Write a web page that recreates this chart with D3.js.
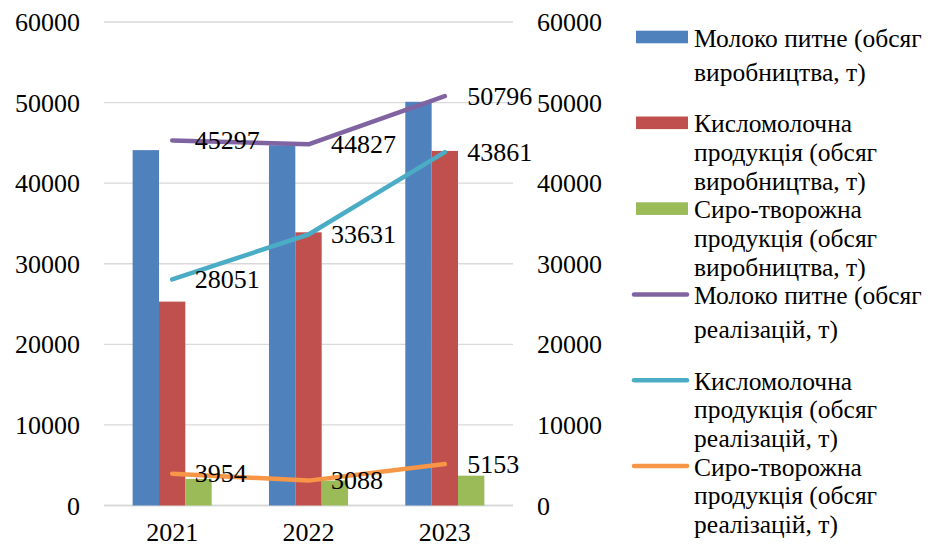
<!DOCTYPE html>
<html>
<head>
<meta charset="utf-8">
<script src="https://cdn.jsdelivr.net/npm/d3@7"></script>
<style>
  html, body { margin: 0; padding: 0; background: #fff; }
  svg text { font-family: "Liberation Serif", "Tinos", "Times New Roman", Times, "DejaVu Serif", serif !important; fill: #000; }
</style>
</head>
<body>
<svg id="chart" width="939" height="547"></svg>
<script>
// Years on the category axis
const years = ["2021", "2022", "2023"];

// Production volumes (bars), tonnes
const barSeries = [
  "Молоко питне (обсяг виробництва, т)",
  "Кисломолочна продукція (обсяг виробництва, т)",
  "Сиро-творожна продукція (обсяг виробництва, т)"
];
const milkProduction = [44100, 44700, 50100];
const sourMilkProduction = [25300, 33900, 44000];
const cheeseProduction = [3300, 3100, 3700];

// Sales volumes (lines on the secondary axis), tonnes
const lineSeries = [
  "Молоко питне (обсяг реалізацій, т)",
  "Кисломолочна продукція (обсяг реалізацій, т)",
  "Сиро-творожна продукція (обсяг реалізацій, т)"
];
const milkSales = [45297, 44827, 50796];
const sourMilkSales = [28051, 33631, 43861];
const cheeseSales = [3954, 3088, 5153];

// Axis ticks (both axes share the same range)
const yTicks = [0, 10000, 20000, 30000, 40000, 50000, 60000];

// Legend text, wrapped into lines
const legendLines = [
  ["Молоко питне (обсяг", "виробництва, т)"],
  ["Кисломолочна", "продукція (обсяг", "виробництва, т)"],
  ["Сиро-творожна", "продукція (обсяг", "виробництва, т)"],
  ["Молоко питне (обсяг", "реалізацій, т)"],
  ["Кисломолочна", "продукція (обсяг", "реалізацій, т)"],
  ["Сиро-творожна", "продукція (обсяг", "реалізацій, т)"]
];

const barColors = ["#4F81BD", "#C0504D", "#9BBB59"];
const lineColors = ["#8064A2", "#4BACC6", "#F79646"];

const barData = [milkProduction, sourMilkProduction, cheeseProduction];
const lineData = [milkSales, sourMilkSales, cheeseSales];

const FONT = "'Liberation Serif', Tinos, 'Times New Roman', Times, 'DejaVu Serif', serif";

const svg = d3.select("#chart");
const plot = { left: 104, right: 513, top: 22, bottom: 505.5 };

const yLeft = d3.scaleLinear().domain([0, 60000]).range([plot.bottom, plot.top]);
const yRight = d3.scaleLinear().domain([0, 60000]).range([plot.bottom, plot.top]);

const x0 = d3.scaleBand().domain(years).range([plot.left, plot.right]).padding(0);
const groupW = x0.bandwidth() * 0.58;
const x1 = d3.scaleBand().domain(d3.range(barData.length)).range([0, groupW]).padding(0);

function styleText(sel, size) {
  sel.attr("font-size", size)
    .attr("font-family", FONT)
    .style("font-family", FONT)
    .attr("fill", "#000");
}

// Gridlines
svg.append("g")
  .selectAll("line")
  .data(yTicks)
  .join("line")
  .attr("x1", plot.left).attr("x2", plot.right)
  .attr("y1", d => yLeft(d)).attr("y2", d => yLeft(d))
  .attr("stroke", "#d9d9d9")
  .attr("stroke-width", d => d === 0 ? 2 : 1.3);

// Left axis
const leftAxis = svg.append("g")
  .attr("transform", `translate(80,0)`)
  .call(d3.axisLeft(yLeft).tickValues(yTicks).tickSize(0).tickPadding(0).tickFormat(d3.format("d")));
leftAxis.attr("font-family", FONT);
leftAxis.select(".domain").remove();
leftAxis.selectAll("text").call(styleText, 26).attr("dy", "0.33em");

// Right axis
const rightAxis = svg.append("g")
  .attr("transform", `translate(537,0)`)
  .call(d3.axisRight(yRight).tickValues(yTicks).tickSize(0).tickPadding(0).tickFormat(d3.format("d")));
rightAxis.attr("font-family", FONT);
rightAxis.select(".domain").remove();
rightAxis.selectAll("text").call(styleText, 26).attr("dy", "0.33em");

// Category axis labels
const xAxis = svg.append("g")
  .attr("transform", `translate(0,${plot.bottom})`)
  .call(d3.axisBottom(x0).tickSize(0).tickPadding(0));
xAxis.attr("font-family", FONT);
xAxis.select(".domain").remove();
xAxis.selectAll("text").call(styleText, 26)
  .attr("dy", null)
  .attr("y", 35.5);

// Bars
const groups = svg.append("g")
  .selectAll("g")
  .data(years)
  .join("g")
  .attr("transform", d => `translate(${x0(d) + (x0.bandwidth() - groupW) / 2},0)`);

groups.selectAll("rect")
  .data((yr, i) => barData.map((vals, s) => ({ s, v: vals[i] })))
  .join("rect")
  .attr("x", d => x1(d.s))
  .attr("width", x1.bandwidth())
  .attr("y", d => yLeft(d.v))
  .attr("height", d => yLeft(0) - yLeft(d.v))
  .attr("fill", d => barColors[d.s]);

// Lines
const xc = d => x0(d) + x0.bandwidth() / 2;
const lineGen = d3.line()
  .x((v, i) => xc(years[i]))
  .y(v => yRight(v));

svg.append("g")
  .selectAll("path")
  .data(lineData)
  .join("path")
  .attr("d", d => lineGen(d))
  .attr("fill", "none")
  .attr("stroke", (d, i) => lineColors[i])
  .attr("stroke-width", 4.5)
  .attr("stroke-linecap", "round")
  .attr("stroke-linejoin", "round");

// Data labels to the right of each line point
const labelG = svg.append("g");
lineData.forEach(vals => {
  labelG.selectAll(null)
    .data(vals)
    .join("text")
    .attr("x", (v, i) => xc(years[i]) + 22.5)
    .attr("y", v => yRight(v))
    .attr("dy", "0.33em")
    .call(styleText, 26)
    .text(v => v);
});

// Legend
const legend = svg.append("g");
const swatchX = 636, swatchW = 52, textX = 694;
legendLines.forEach((lines, i) => {
  const cy = 37 + i * 85.8;
  const g = legend.append("g");
  if (i < 3) {
    g.append("rect")
      .attr("x", swatchX).attr("y", cy - 6.3)
      .attr("width", swatchW).attr("height", 12.6)
      .attr("fill", barColors[i]);
  } else {
    g.append("line")
      .attr("x1", 634).attr("x2", 687)
      .attr("y1", cy).attr("y2", cy)
      .attr("stroke", lineColors[i - 3])
      .attr("stroke-width", 4.5)
      .attr("stroke-linecap", "round");
  }
  const pitch = lines.length === 2 ? 34 : 28.7;
  g.selectAll("text")
    .data(lines)
    .join("text")
    .attr("x", textX)
    .attr("y", (t, j) => cy + 9.5 + j * pitch)
    .call(styleText, 25.5)
    .text(t => t);
});
</script>
</body>
</html>
